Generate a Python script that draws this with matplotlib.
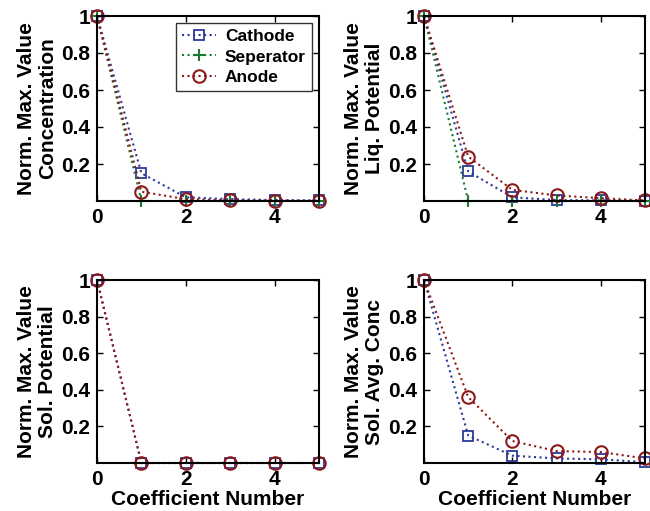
import matplotlib
matplotlib.use("Agg")
import matplotlib.pyplot as plt

plt.rcParams['font.family'] = ['Liberation Sans', 'DejaVu Sans']
plt.rcParams['font.weight'] = 'bold'

coef = [0, 1, 2, 3, 4, 5]

# concentration
conc_cathode = [1, 0.15, 0.02, 0.01, 0.005, 0.003]
conc_sep = [1, 0, 0, 0, 0, 0]
conc_anode = [1, 0.05, 0.01, 0.003, 0.002, 0.001]

# liquid potential
liq_cathode = [1, 0.16, 0.02, 0.005, 0.003, 0.001]
liq_sep = [1, 0, 0, 0, 0, 0]
liq_anode = [1, 0.24, 0.06, 0.03, 0.015, 0.003]

# solid potential
sol_cathode = [1, 0, 0, 0, 0, 0]
sol_anode = [1, 0, 0, 0, 0, 0]

# solid avg conc
avg_cathode = [1, 0.15, 0.04, 0.025, 0.02, 0.005]
avg_anode = [1, 0.36, 0.12, 0.065, 0.06, 0.025]

ylabels = ['Norm. Max. Value\nConcentration', 'Norm. Max. Value\nLiq. Potential',
           'Norm. Max. Value\nSol. Potential', 'Norm. Max. Value\nSol. Avg. Conc']

blue = '#2b3a9a'
green = '#1c7a30'
red = '#8c1a1a'

fig = plt.figure(figsize=(6.5, 5.11), dpi=100)
W, H = 650, 511
boxes = [(97, 16, 319, 201), (424, 16, 645, 201), (97, 280, 319, 463), (424, 280, 645, 463)]
axes = []
for (x0, y0, x1, y1) in boxes:
    ax = fig.add_axes([x0 / W, 1 - y1 / H, (x1 - x0) / W, (y1 - y0) / H])
    axes.append(ax)

def draw(ax, cath, sep, an):
    if cath is not None:
        ax.plot(coef, cath, ':', color=blue, marker='s', mfc='none', mec=blue, ms=7, mew=1.3, lw=1.5,
                label='Cathode', clip_on=False)
    if sep is not None:
        ax.plot(coef, sep, ':', color=green, marker='+', ms=8, mew=1.5, lw=1.5,
                label='Seperator', clip_on=False)
    if an is not None:
        ax.plot(coef, an, ':', color=red, marker='o', mfc='none', mec=red, ms=9, mew=1.5, lw=1.5,
                label='Anode', clip_on=False)

draw(axes[0], conc_cathode, conc_sep, conc_anode)
draw(axes[1], liq_cathode, liq_sep, liq_anode)
draw(axes[2], sol_cathode, None, sol_anode)
draw(axes[3], avg_cathode, None, avg_anode)

for i, ax in enumerate(axes):
    ax.set_xlim(0, 5)
    ax.set_ylim(0, 1)
    ax.set_xticks([0, 2, 4])
    ax.set_yticks([0.2, 0.4, 0.6, 0.8, 1])
    ax.set_yticklabels(['0.2', '0.4', '0.6', '0.8', '1'])
    ax.tick_params(direction='in', top=True, right=True, labelsize=15, length=4, width=1, pad=5)
    for lab in ax.get_xticklabels() + ax.get_yticklabels():
        lab.set_fontweight('bold')
    for s in ax.spines.values():
        s.set_linewidth(1.5)
    ax.set_ylabel(ylabels[i], fontsize=15, fontweight='bold', labelpad=3, linespacing=1.1)
    if i >= 2:
        ax.set_xlabel('Coefficient Number', fontsize=15, fontweight='bold', labelpad=1)

leg = axes[0].legend(loc='upper right', fontsize=12.5, frameon=True, fancybox=False,
                     edgecolor='black', borderpad=0.35, labelspacing=0.3, handlelength=2.0,
                     handletextpad=0.5, borderaxespad=0.4)
leg.get_frame().set_linewidth(1)
for t in leg.get_texts():
    t.set_fontweight('bold')

fig.savefig('out.png', dpi=100)
